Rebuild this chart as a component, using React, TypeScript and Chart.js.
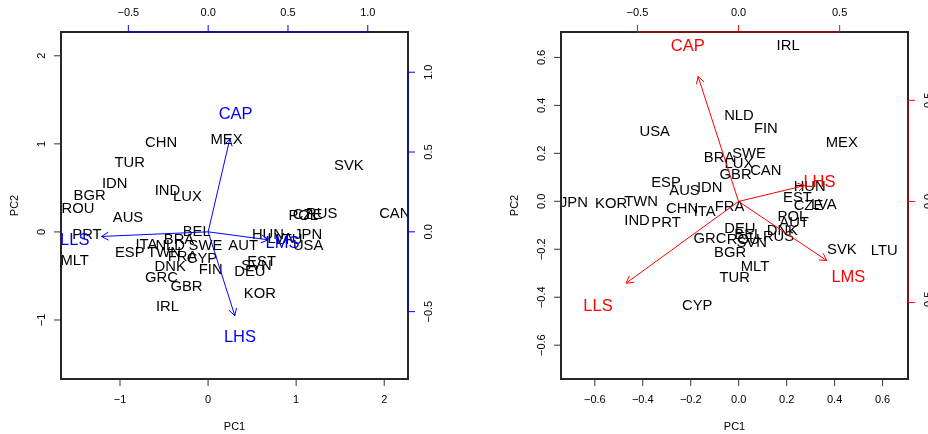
import React, { useEffect, useRef } from 'react';
import { Chart, registerables } from 'chart.js';
Chart.register(...registerables);

const FONT = '"Liberation Sans", Arial, Helvetica, sans-serif';

// ---------- Left biplot ----------
const leftCountries = ['CHN','MEX','TUR','IDN','BGR','ROU','IND','LUX','SVK','AUS','CAN','POL','CZE','RUS','PRT','HUN','LVA','LTU','JPN','USA','BEL','ITA','NLD','BRA','SWE','AUT','ESP','TWN','FRA','CYP','DNK','FIN','EST','SVN','DEU','GRC','GBR','KOR','IRL','MLT'];
const leftPC1 = [-0.534,0.209,-0.89,-1.06,-1.345,-1.477,-0.461,-0.234,1.599,-0.909,2.12,1.08,1.13,1.29,-1.375,0.68,0.82,0.92,1.136,1.136,-0.13,-0.70,-0.43,-0.33,-0.03,0.398,-0.89,-0.50,-0.29,-0.07,-0.43,0.03,0.607,0.55,0.474,-0.53,-0.245,0.588,-0.461,-1.515];
const leftPC2 = [1.02,1.058,0.794,0.56,0.418,0.278,0.478,0.41,0.768,0.176,0.222,0.195,0.206,0.218,-0.023,-0.015,-0.07,-0.08,-0.023,-0.15,0.01,-0.136,-0.145,-0.08,-0.14,-0.144,-0.219,-0.228,-0.27,-0.295,-0.383,-0.423,-0.324,-0.37,-0.445,-0.513,-0.607,-0.693,-0.84,-0.313];
const leftVars = ['CAP','LLS','LMS','LHS'];
const leftArrowX = [0.136,-0.668,0.376,0.167];
const leftArrowY = [0.583,-0.029,-0.050,-0.525];
const leftVarX = [0.172,-0.836,0.466,0.199];
const leftVarY = [0.744,-0.044,-0.065,-0.656];
const leftBottomTicks = [-1,0,1,2];
const leftBottomLabels = ['\u22121','0','1','2'];
const leftLeftTicks = [-1,0,1,2];
const leftLeftLabels = ['\u22121','0','1','2'];
const leftTopTicks = [-0.5,0,0.5,1];
const leftTopLabels = ['\u22120.5','0.0','0.5','1.0'];
const leftRightTicks = [-0.5,0,0.5,1];
const leftRightLabels = ['\u22120.5','0.0','0.5','1.0'];

// ---------- Right biplot ----------
const rightCountries = ['IRL','NLD','FIN','USA','MEX','SWE','BRA','LUX','CAN','GBR','ESP','AUS','IDN','HUN','EST','JPN','KOR','TWN','CZE','LVA','CHN','ITA','FRA','IND','PRT','POL','AUT','DNK','RUS','DEU','BEL','GRC','ROU','SVN','BGR','MLT','TUR','CYP','SVK','LTU'];
const rightPC1 = [0.206,0.001,0.113,-0.35,0.43,0.043,-0.082,0.001,0.113,-0.013,-0.303,-0.226,-0.121,0.296,0.245,-0.687,-0.532,-0.407,0.291,0.355,-0.236,-0.142,-0.038,-0.424,-0.303,0.224,0.231,0.182,0.166,0.005,0.04,-0.12,0.019,0.054,-0.036,0.068,-0.017,-0.173,0.43,0.607];
const rightPC2 = [0.652,0.362,0.305,0.295,0.249,0.202,0.184,0.159,0.132,0.115,0.083,0.049,0.059,0.063,0.019,0.0,-0.004,0.003,-0.016,-0.012,-0.025,-0.038,-0.018,-0.076,-0.083,-0.059,-0.087,-0.119,-0.145,-0.112,-0.135,-0.15,-0.154,-0.17,-0.212,-0.268,-0.316,-0.43,-0.198,-0.2];
const rightVars = ['CAP','LHS','LMS','LLS'];
const rightArrowX = [-0.2,0.328,0.436,-0.556];
const rightArrowY = [0.618,0.079,-0.292,-0.404];
const rightVarX = [-0.251,0.400,0.543,-0.695];
const rightVarY = [0.772,0.100,-0.37,-0.511];
const rightBottomTicks = [-0.6,-0.4,-0.2,0,0.2,0.4,0.6];
const rightBottomLabels = ['\u22120.6','\u22120.4','\u22120.2','0.0','0.2','0.4','0.6'];
const rightLeftTicks = [-0.6,-0.4,-0.2,0,0.2,0.4,0.6];
const rightLeftLabels = ['\u22120.6','\u22120.4','\u22120.2','0.0','0.2','0.4','0.6'];
const rightTopTicks = [-0.5,0,0.5];
const rightTopLabels = ['\u22120.5','0.0','0.5'];
const rightRightTicks = [-0.5,0,0.5];
const rightRightLabels = ['\u22120.5','0.0','0.5'];

type Panel = {
  names: string[]; pc1: number[]; pc2: number[];
  vars: string[]; arrowX: number[]; arrowY: number[]; varX: number[]; varY: number[];
  color: string; axisTint: string;
  xr: [number, number]; yr: [number, number]; x2r: [number, number]; y2r: [number, number];
  padding: { left: number; right: number; top: number; bottom: number };
  bottom: [number[], string[]]; left: [number[], string[]]; top: [number[], string[]]; right: [number[], string[]];
};

const leftPanel: Panel = {
  names: leftCountries, pc1: leftPC1, pc2: leftPC2,
  vars: leftVars, arrowX: leftArrowX, arrowY: leftArrowY, varX: leftVarX, varY: leftVarY,
  color: '#0000FF', axisTint: 'rgba(0,0,255,0.38)',
  xr: [-1.67, 2.27], yr: [-1.67, 2.27], x2r: [-0.922, 1.252], y2r: [-0.922, 1.252],
  padding: { left: 61, right: 56, top: 32, bottom: 55 },
  bottom: [leftBottomTicks, leftBottomLabels], left: [leftLeftTicks, leftLeftLabels],
  top: [leftTopTicks, leftTopLabels], right: [leftRightTicks, leftRightLabels],
};

const rightPanel: Panel = {
  names: rightCountries, pc1: rightPC1, pc2: rightPC2,
  vars: rightVars, arrowX: rightArrowX, arrowY: rightArrowY, varX: rightVarX, varY: rightVarY,
  color: '#FF0000', axisTint: 'rgba(255,0,0,0.38)',
  xr: [-0.741, 0.706], yr: [-0.741, 0.706], x2r: [-0.878, 0.838], y2r: [-0.878, 0.838],
  padding: { left: 97, right: 20, top: 32, bottom: 55 },
  bottom: [rightBottomTicks, rightBottomLabels], left: [rightLeftTicks, rightLeftLabels],
  top: [rightTopTicks, rightTopLabels], right: [rightRightTicks, rightRightLabels],
};

const PT_FONT = 14.8;
const VAR_FONT = 16.5;
const TICK_FONT = 11;
const CAP = 0.358;

function BiplotCanvas({ panel }: { panel: Panel }) {
  const ref = useRef<HTMLCanvasElement>(null);
  useEffect(() => {
    const p = panel;
    const canvas = ref.current!;
    const nV = p.vars.length;

    const plugin = {
      id: 'biplot',
      beforeDatasetsDraw(chart: any) {
        const { ctx, chartArea: a } = chart;
        const meta = chart.getDatasetMeta(0);
        ctx.save();
        ctx.beginPath();
        ctx.rect(a.left, a.top, a.right - a.left, a.bottom - a.top);
        ctx.clip();
        ctx.font = `${PT_FONT}px ${FONT}`;
        ctx.fillStyle = '#000';
        ctx.textAlign = 'center';
        ctx.textBaseline = 'alphabetic';
        meta.data.forEach((el: any, i: number) => {
          ctx.fillText(p.names[i], el.x, el.y + PT_FONT * CAP);
        });
        ctx.restore();
      },
      afterDatasetsDraw(chart: any) {
        const { ctx, chartArea: a } = chart;
        ctx.save();
        ctx.beginPath();
        ctx.rect(a.left, a.top, a.right - a.left, a.bottom - a.top);
        ctx.clip();
        // arrowheads
        ctx.strokeStyle = p.color;
        ctx.lineWidth = 1;
        for (let k = 0; k < nV; k++) {
          const m = chart.getDatasetMeta(1 + k);
          const s = m.data[0], e = m.data[1];
          const ang = Math.atan2(e.y - s.y, e.x - s.x);
          const L = 8, th = Math.PI / 6;
          ctx.beginPath();
          ctx.moveTo(e.x - L * Math.cos(ang - th), e.y - L * Math.sin(ang - th));
          ctx.lineTo(e.x, e.y);
          ctx.lineTo(e.x - L * Math.cos(ang + th), e.y - L * Math.sin(ang + th));
          ctx.stroke();
        }
        // variable labels
        const lm = chart.getDatasetMeta(1 + nV);
        ctx.font = `${VAR_FONT}px ${FONT}`;
        ctx.fillStyle = p.color;
        ctx.textAlign = 'center';
        ctx.textBaseline = 'alphabetic';
        lm.data.forEach((el: any, i: number) => {
          ctx.fillText(p.vars[i], el.x, el.y + VAR_FONT * CAP);
        });
        ctx.restore();
      },
      afterDraw(chart: any) {
        const { ctx, chartArea: a } = chart;
        const sx = chart.scales.x, sy = chart.scales.y, sx2 = chart.scales.x2, sy2 = chart.scales.y2;
        ctx.save();
        // box
        ctx.strokeStyle = '#262626';
        ctx.lineWidth = 2;
        ctx.strokeRect(a.left, a.top, a.right - a.left, a.bottom - a.top);

        const TL = 7;
        const GAP = 20;
        ctx.font = `${TICK_FONT}px ${FONT}`;
        ctx.textAlign = 'center';
        ctx.textBaseline = 'alphabetic';

        const horiz = (scale: any, ticks: number[], labels: string[], y0: number, dir: number, tickColor: string, tint: string | null) => {
          const px = ticks.map((v) => scale.getPixelForValue(v));
          if (tint) {
            ctx.strokeStyle = tint;
            ctx.lineWidth = 2;
            ctx.beginPath();
            ctx.moveTo(px[0], y0);
            ctx.lineTo(px[px.length - 1], y0);
            ctx.stroke();
          }
          ctx.strokeStyle = tickColor;
          ctx.lineWidth = 1;
          px.forEach((x) => {
            ctx.beginPath();
            ctx.moveTo(x, y0);
            ctx.lineTo(x, y0 + dir * TL);
            ctx.stroke();
          });
          ctx.fillStyle = '#000';
          px.forEach((x, i) => {
            ctx.fillText(labels[i], x, y0 + dir * GAP + TICK_FONT * CAP);
          });
        };
        const vert = (scale: any, ticks: number[], labels: string[], x0: number, dir: number, tickColor: string, tint: string | null) => {
          const py = ticks.map((v) => scale.getPixelForValue(v));
          if (tint) {
            ctx.strokeStyle = tint;
            ctx.lineWidth = 2;
            ctx.beginPath();
            ctx.moveTo(x0, py[0]);
            ctx.lineTo(x0, py[py.length - 1]);
            ctx.stroke();
          }
          ctx.strokeStyle = tickColor;
          ctx.lineWidth = 1;
          py.forEach((y) => {
            ctx.beginPath();
            ctx.moveTo(x0, y);
            ctx.lineTo(x0 + dir * TL, y);
            ctx.stroke();
          });
          ctx.fillStyle = '#000';
          py.forEach((y, i) => {
            ctx.save();
            ctx.translate(x0 + dir * GAP, y);
            ctx.rotate(-Math.PI / 2);
            ctx.fillText(labels[i], 0, TICK_FONT * CAP);
            ctx.restore();
          });
        };

        horiz(sx, p.bottom[0], p.bottom[1], a.bottom, 1, '#333', null);
        vert(sy, p.left[0], p.left[1], a.left, -1, '#333', null);
        horiz(sx2, p.top[0], p.top[1], a.top, -1, p.color, p.axisTint);
        vert(sy2, p.right[0], p.right[1], a.right, 1, p.color, p.axisTint);

        // axis titles
        ctx.fillStyle = '#000';
        ctx.font = `${TICK_FONT}px ${FONT}`;
        ctx.fillText('PC1', (a.left + a.right) / 2, a.bottom + 47 + TICK_FONT * CAP);
        ctx.save();
        ctx.translate(a.left - 47, (a.top + a.bottom) / 2);
        ctx.rotate(-Math.PI / 2);
        ctx.fillText('PC2', 0, TICK_FONT * CAP);
        ctx.restore();
        ctx.restore();
      },
    };

    const datasets: any[] = [
      {
        label: 'countries',
        data: p.names.map((_, i) => ({ x: p.pc1[i], y: p.pc2[i] })),
        pointRadius: 0,
        showLine: false,
        xAxisID: 'x',
        yAxisID: 'y',
      },
    ];
    for (let k = 0; k < nV; k++) {
      datasets.push({
        label: p.vars[k],
        data: [{ x: 0, y: 0 }, { x: p.arrowX[k], y: p.arrowY[k] }],
        showLine: true,
        borderColor: p.color,
        borderWidth: 1,
        pointRadius: 0,
        xAxisID: 'x2',
        yAxisID: 'y2',
      });
    }
    datasets.push({
      label: 'varlabels',
      data: p.vars.map((_, i) => ({ x: p.varX[i], y: p.varY[i] })),
      pointRadius: 0,
      showLine: false,
      xAxisID: 'x2',
      yAxisID: 'y2',
    });

    const chart = new Chart(canvas, {
      type: 'scatter',
      data: { datasets },
      options: {
        animation: false,
        responsive: false,
        devicePixelRatio: 1,
        events: [],
        layout: { padding: p.padding },
        plugins: { legend: { display: false }, tooltip: { enabled: false } },
        scales: {
          x: { type: 'linear', axis: 'x', position: 'bottom', min: p.xr[0], max: p.xr[1], display: false },
          y: { type: 'linear', axis: 'y', position: 'left', min: p.yr[0], max: p.yr[1], display: false },
          x2: { type: 'linear', axis: 'x', position: 'top', min: p.x2r[0], max: p.x2r[1], display: false },
          y2: { type: 'linear', axis: 'y', position: 'right', min: p.y2r[0], max: p.y2r[1], display: false },
        },
      } as any,
      plugins: [plugin],
    });
    return () => chart.destroy();
  }, [panel]);
  return <canvas ref={ref} width={464} height={434} style={{ display: 'block', width: 464, height: 434 }} />;
}

export default function App() {
  return (
    <div style={{ position: 'fixed', left: 0, top: 0, width: 928, height: 434, display: 'flex', background: '#fff', overflow: 'hidden' }}>
      <BiplotCanvas panel={leftPanel} />
      <BiplotCanvas panel={rightPanel} />
    </div>
  );
}
